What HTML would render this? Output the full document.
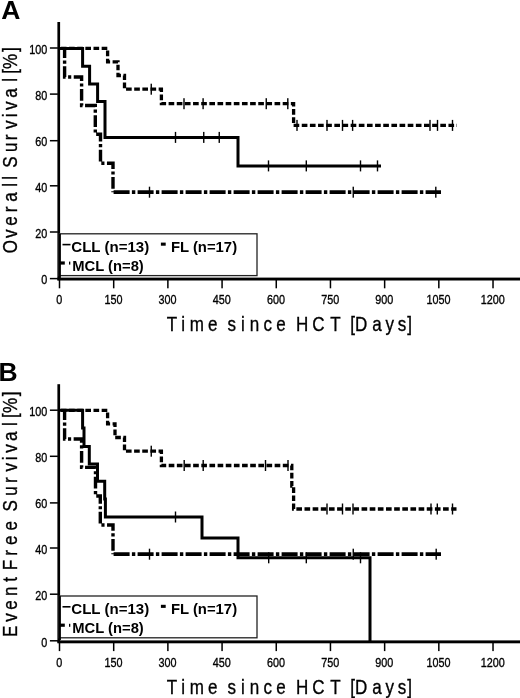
<!DOCTYPE html>
<html lang="en"><head><meta charset="utf-8"><title>Survival after HCT</title>
<style>
html,body{margin:0;padding:0;background:#fff}
body{width:520px;height:698px;overflow:hidden}
svg text{font-family:"Liberation Sans",Arial,Helvetica,sans-serif;fill:#000}
.t{font-weight:400;stroke:#000;stroke-width:0.35px;paint-order:stroke}
.b{font-weight:700}
path{fill:none;stroke:#000}
.fl{stroke-width:3.3;stroke-dasharray:5.65 2.5;stroke-dashoffset:7.25}
.mcl{stroke-width:3.4;stroke-dasharray:11.75 2.5 3.15 2.5;stroke-dashoffset:2.05}
.mcl2{stroke-width:3.7;stroke-dasharray:16 2.3 3.4 2.3}
.cll{stroke-width:3;stroke-linejoin:miter}
</style></head><body>
<svg width="520" height="698" viewBox="0 0 520 698" style="display:block;will-change:transform">
<rect width="520" height="698" fill="#fff"/>
<g>
<rect x="57.4" y="22.0" width="2.7" height="258.3" fill="#000"/>
<rect x="57.4" y="277.6" width="462.6" height="2.9" fill="#000"/>
<rect x="49.9" y="47.25" width="8" height="1.5" fill="#000"/>
<text transform="translate(47.3,53.8) scale(0.79,1)" text-anchor="end" font-size="13.7" class="t">100</text>
<rect x="49.9" y="93.35" width="8" height="1.5" fill="#000"/>
<text transform="translate(47.3,99.7) scale(0.79,1)" text-anchor="end" font-size="13.7" class="t">80</text>
<rect x="49.9" y="139.95" width="8" height="1.5" fill="#000"/>
<text transform="translate(47.3,146.2) scale(0.79,1)" text-anchor="end" font-size="13.7" class="t">60</text>
<rect x="49.9" y="185.05" width="8" height="1.5" fill="#000"/>
<text transform="translate(47.3,192.2) scale(0.79,1)" text-anchor="end" font-size="13.7" class="t">40</text>
<rect x="49.9" y="231.25" width="8" height="1.5" fill="#000"/>
<text transform="translate(47.3,237.9) scale(0.79,1)" text-anchor="end" font-size="13.7" class="t">20</text>
<rect x="49.9" y="277.85" width="8" height="1.5" fill="#000"/>
<text transform="translate(47.3,284.3) scale(0.79,1)" text-anchor="end" font-size="13.7" class="t">0</text>
<rect x="58.75" y="280.0" width="1.5" height="8.3" fill="#000"/>
<text transform="translate(59.2,303.9) scale(0.79,1)" text-anchor="middle" font-size="13.7" class="t">0</text>
<rect x="112.94" y="280.0" width="1.5" height="8.3" fill="#000"/>
<text transform="translate(113.39,303.9) scale(0.79,1)" text-anchor="middle" font-size="13.7" class="t">150</text>
<rect x="167.13" y="280.0" width="1.5" height="8.3" fill="#000"/>
<text transform="translate(167.57999999999998,303.9) scale(0.79,1)" text-anchor="middle" font-size="13.7" class="t">300</text>
<rect x="221.32" y="280.0" width="1.5" height="8.3" fill="#000"/>
<text transform="translate(221.76999999999998,303.9) scale(0.79,1)" text-anchor="middle" font-size="13.7" class="t">450</text>
<rect x="275.51" y="280.0" width="1.5" height="8.3" fill="#000"/>
<text transform="translate(275.96,303.9) scale(0.79,1)" text-anchor="middle" font-size="13.7" class="t">600</text>
<rect x="329.70" y="280.0" width="1.5" height="8.3" fill="#000"/>
<text transform="translate(330.15,303.9) scale(0.79,1)" text-anchor="middle" font-size="13.7" class="t">750</text>
<rect x="383.89" y="280.0" width="1.5" height="8.3" fill="#000"/>
<text transform="translate(384.34,303.9) scale(0.79,1)" text-anchor="middle" font-size="13.7" class="t">900</text>
<rect x="438.08" y="280.0" width="1.5" height="8.3" fill="#000"/>
<text transform="translate(438.53,303.9) scale(0.79,1)" text-anchor="middle" font-size="13.7" class="t">1050</text>
<rect x="492.27" y="280.0" width="1.5" height="8.3" fill="#000"/>
<text transform="translate(492.71999999999997,303.9) scale(0.79,1)" text-anchor="middle" font-size="13.7" class="t">1200</text>
<rect x="59" y="233.80" width="198" height="41.8" fill="#fff" stroke="#222" stroke-width="1.3"/>
<rect x="59" y="233.9" width="1.9" height="44" fill="#000"/>
<rect x="62.5" y="243.80" width="8" height="1.6" fill="#000"/>
<rect x="59.8" y="261.40" width="5" height="3.2" fill="#000"/>
<rect x="69" y="261.60" width="1.3" height="3" fill="#000"/>
<rect x="160.9" y="242.6" width="4.8" height="3.1" fill="#000"/>
<text x="71.3" y="252.10" textLength="77.9" lengthAdjust="spacingAndGlyphs" class="b" font-size="14.8">CLL (n=13)</text>
<text x="72.3" y="270.80" textLength="71.5" lengthAdjust="spacingAndGlyphs" class="b" font-size="14.8">MCL (n=8)</text>
<text x="170.9" y="252.10" textLength="66.2" lengthAdjust="spacingAndGlyphs" class="b" font-size="14.8">FL (n=17)</text>
<path d="M60,48.4 H107.6 V61.9 H118 V75.5 H124.5 V89.2 H161.4 V103.7 H293.6 V125.4 H457" class="fl"/>
<rect x="150.55" y="83.70" width="1.4" height="11.00" fill="#000"/>
<rect x="183.30" y="98.20" width="1.4" height="11.00" fill="#000"/><rect x="202.40" y="98.20" width="1.4" height="11.00" fill="#000"/><rect x="265.55" y="98.20" width="1.4" height="11.00" fill="#000"/><rect x="287.10" y="98.20" width="1.4" height="11.00" fill="#000"/>
<rect x="296.30" y="119.90" width="1.4" height="11.00" fill="#000"/><rect x="326.30" y="119.90" width="1.4" height="11.00" fill="#000"/><rect x="341.80" y="119.90" width="1.4" height="11.00" fill="#000"/><rect x="351.90" y="119.90" width="1.4" height="11.00" fill="#000"/><rect x="429.30" y="119.90" width="1.4" height="11.00" fill="#000"/><rect x="436.80" y="119.90" width="1.4" height="11.00" fill="#000"/><rect x="451.80" y="119.90" width="1.4" height="11.00" fill="#000"/>
<path d="M64.6,48.4 V77 H81.6 V105.5 H95.3 V134.2 H100.5 V163.2 H113 V192.2" class="mcl"/>
<path d="M113.6,192.2 H441" class="mcl2"/>
<rect x="148.80" y="186.70" width="1.4" height="11.00" fill="#000"/><rect x="352.55" y="186.70" width="1.4" height="11.00" fill="#000"/><rect x="435.10" y="186.70" width="1.4" height="11.00" fill="#000"/>
<path d="M60,48.4 H82.6 V66.2 H89.6 V84 H97.6 V101.6 H105 V137.4 H238 V165.9 H381" class="cll"/>
<rect x="174.80" y="131.90" width="1.4" height="11.00" fill="#000"/><rect x="203.05" y="131.90" width="1.4" height="11.00" fill="#000"/><rect x="218.55" y="131.90" width="1.4" height="11.00" fill="#000"/>
<rect x="267.80" y="160.40" width="1.4" height="11.00" fill="#000"/><rect x="305.60" y="160.40" width="1.4" height="11.00" fill="#000"/><rect x="359.80" y="160.40" width="1.4" height="11.00" fill="#000"/><rect x="376.80" y="160.40" width="1.4" height="11.00" fill="#000"/>
<text transform="scale(0.83,1)" x="201.05 218.51 228.76 250.64 262.04 274.13 290.50 301.05 317.50 332.86 344.27 356.75 376.19 397.85 410.38 422.03 427.84 448.53 464.41 479.25 490.68" y="331" font-size="20.5" class="t">Time since HCT [Days]</text>
<text transform="translate(17.2,0) rotate(-90) scale(0.83,1)" x="-305.19 -286.82 -271.96 -255.58 -243.04 -224.88 -216.44 -211.89 -202.14 -183.26 -168.83 -155.49 -141.13 -132.60 -117.74 -98.37 -93.81 -88.81 -83.14 -62.81" y="0" font-size="20.5" class="t">Overall Survival [%]</text>
<text x="1.2" y="19.3" class="b" font-size="26.5">A</text>
</g>
<g>
<rect x="57.4" y="384.2" width="2.7" height="258.3" fill="#000"/>
<rect x="57.4" y="640.4" width="462.6" height="2.9" fill="#000"/>
<rect x="49.9" y="409.45" width="8" height="1.5" fill="#000"/>
<text transform="translate(47.3,416.0) scale(0.79,1)" text-anchor="end" font-size="13.7" class="t">100</text>
<rect x="49.9" y="455.55" width="8" height="1.5" fill="#000"/>
<text transform="translate(47.3,461.9) scale(0.79,1)" text-anchor="end" font-size="13.7" class="t">80</text>
<rect x="49.9" y="502.15" width="8" height="1.5" fill="#000"/>
<text transform="translate(47.3,508.4) scale(0.79,1)" text-anchor="end" font-size="13.7" class="t">60</text>
<rect x="49.9" y="547.25" width="8" height="1.5" fill="#000"/>
<text transform="translate(47.3,554.4) scale(0.79,1)" text-anchor="end" font-size="13.7" class="t">40</text>
<rect x="49.9" y="593.45" width="8" height="1.5" fill="#000"/>
<text transform="translate(47.3,600.1) scale(0.79,1)" text-anchor="end" font-size="13.7" class="t">20</text>
<rect x="49.9" y="640.05" width="8" height="1.5" fill="#000"/>
<text transform="translate(47.3,646.5) scale(0.79,1)" text-anchor="end" font-size="13.7" class="t">0</text>
<rect x="58.75" y="642.8" width="1.5" height="8.3" fill="#000"/>
<text transform="translate(59.2,666.7) scale(0.79,1)" text-anchor="middle" font-size="13.7" class="t">0</text>
<rect x="112.94" y="642.8" width="1.5" height="8.3" fill="#000"/>
<text transform="translate(113.39,666.7) scale(0.79,1)" text-anchor="middle" font-size="13.7" class="t">150</text>
<rect x="167.13" y="642.8" width="1.5" height="8.3" fill="#000"/>
<text transform="translate(167.57999999999998,666.7) scale(0.79,1)" text-anchor="middle" font-size="13.7" class="t">300</text>
<rect x="221.32" y="642.8" width="1.5" height="8.3" fill="#000"/>
<text transform="translate(221.76999999999998,666.7) scale(0.79,1)" text-anchor="middle" font-size="13.7" class="t">450</text>
<rect x="275.51" y="642.8" width="1.5" height="8.3" fill="#000"/>
<text transform="translate(275.96,666.7) scale(0.79,1)" text-anchor="middle" font-size="13.7" class="t">600</text>
<rect x="329.70" y="642.8" width="1.5" height="8.3" fill="#000"/>
<text transform="translate(330.15,666.7) scale(0.79,1)" text-anchor="middle" font-size="13.7" class="t">750</text>
<rect x="383.89" y="642.8" width="1.5" height="8.3" fill="#000"/>
<text transform="translate(384.34,666.7) scale(0.79,1)" text-anchor="middle" font-size="13.7" class="t">900</text>
<rect x="438.08" y="642.8" width="1.5" height="8.3" fill="#000"/>
<text transform="translate(438.53,666.7) scale(0.79,1)" text-anchor="middle" font-size="13.7" class="t">1050</text>
<rect x="492.27" y="642.8" width="1.5" height="8.3" fill="#000"/>
<text transform="translate(492.71999999999997,666.7) scale(0.79,1)" text-anchor="middle" font-size="13.7" class="t">1200</text>
<rect x="59" y="596.00" width="198" height="41.8" fill="#fff" stroke="#222" stroke-width="1.3"/>
<rect x="59" y="596.1" width="1.9" height="44" fill="#000"/>
<rect x="62.5" y="606.00" width="8" height="1.6" fill="#000"/>
<rect x="59.8" y="623.60" width="5" height="3.2" fill="#000"/>
<rect x="69" y="623.80" width="1.3" height="3" fill="#000"/>
<rect x="160.9" y="604.8" width="4.8" height="3.1" fill="#000"/>
<text x="71.3" y="614.30" textLength="77.9" lengthAdjust="spacingAndGlyphs" class="b" font-size="14.8">CLL (n=13)</text>
<text x="72.3" y="633.00" textLength="71.5" lengthAdjust="spacingAndGlyphs" class="b" font-size="14.8">MCL (n=8)</text>
<text x="170.9" y="614.30" textLength="66.2" lengthAdjust="spacingAndGlyphs" class="b" font-size="14.8">FL (n=17)</text>
<path d="M60,410.3 H107.6 V423.8 H115 V437.5 H124.5 V451.2 H161.4 V465.5 H291.8 V486 H293.6 V509 H456.5" class="fl"/>
<rect x="150.55" y="445.70" width="1.4" height="11.00" fill="#000"/>
<rect x="183.50" y="460.00" width="1.4" height="11.00" fill="#000"/><rect x="202.50" y="460.00" width="1.4" height="11.00" fill="#000"/><rect x="264.80" y="460.00" width="1.4" height="11.00" fill="#000"/><rect x="287.30" y="460.00" width="1.4" height="11.00" fill="#000"/>
<rect x="326.30" y="503.50" width="1.4" height="11.00" fill="#000"/><rect x="341.80" y="503.50" width="1.4" height="11.00" fill="#000"/><rect x="352.30" y="503.50" width="1.4" height="11.00" fill="#000"/><rect x="430.30" y="503.50" width="1.4" height="11.00" fill="#000"/><rect x="436.60" y="503.50" width="1.4" height="11.00" fill="#000"/><rect x="451.80" y="503.50" width="1.4" height="11.00" fill="#000"/>
<path d="M64.6,410.3 V439 H81.6 V467.4 H95.5 V496 H100.3 V525 H113 V554.2" class="mcl"/>
<path d="M113.6,554.2 H441" class="mcl2"/>
<rect x="148.80" y="548.70" width="1.4" height="11.00" fill="#000"/><rect x="352.55" y="548.70" width="1.4" height="11.00" fill="#000"/><rect x="435.50" y="548.70" width="1.4" height="11.00" fill="#000"/>
<path d="M60,410.3 H82.6 V428 H84 V446.5 H89.3 V464 H97.5 V481.2 H104.7 V499 H105.4 V517 H202 V538 H238 V557.8 H370 V641" class="cll"/>
<rect x="174.80" y="511.50" width="1.4" height="11.00" fill="#000"/>
<rect x="268.00" y="552.30" width="1.4" height="11.00" fill="#000"/><rect x="305.60" y="552.30" width="1.4" height="11.00" fill="#000"/><rect x="359.80" y="552.30" width="1.4" height="11.00" fill="#000"/>
<text transform="scale(0.83,1)" x="201.05 218.51 228.76 250.64 262.04 274.13 290.50 301.05 317.50 332.86 344.27 356.75 376.19 397.85 410.38 422.03 427.84 448.53 464.41 479.25 490.68" y="693.8" font-size="20.5" class="t">Time since HCT [Days]</text>
<text transform="translate(17.2,0) rotate(-90) scale(0.83,1)" x="-767.59 -748.99 -734.61 -718.11 -700.79 -695.10 -686.92 -669.67 -656.53 -639.12 -627.72 -616.23 -597.23 -582.08 -568.14 -554.38 -545.61 -531.35 -513.19 -508.63 -503.63 -497.72 -477.27" y="0" font-size="20.5" class="t">Event Free Survival [%]</text>
<text x="-1.5" y="381.4" class="b" font-size="26.5">B</text>
</g>
</svg>
</body></html>
